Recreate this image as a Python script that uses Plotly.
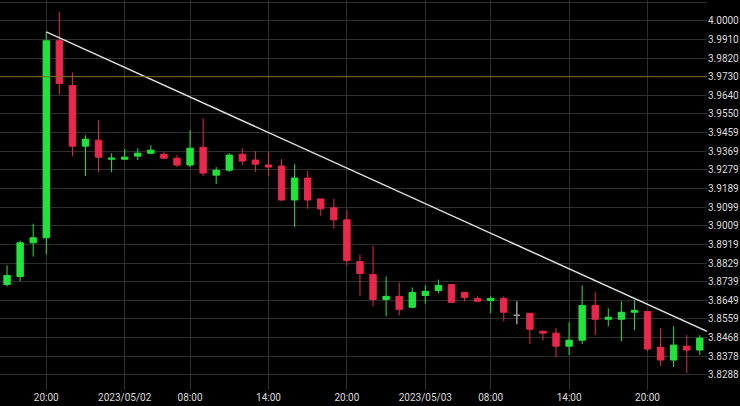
import plotly.graph_objects as go

idx = list(range(54))
opens = [3.8725,3.8764,3.8927,3.8951,3.9904,3.9687,3.9394,3.9423,3.9331,3.9331,3.9346,3.9360,3.9355,3.9336,3.9303,3.9389,3.9254,3.9278,3.9355,3.9327,3.9303,3.9298,3.9134,3.9240,3.9139,3.9096,3.9038,3.8836,3.8773,3.8653,3.8668,3.8615,3.8672,3.8696,3.8725,3.8687,3.8658,3.8648,3.8658,3.8576,3.8586,3.8499,3.8490,3.8427,3.8456,3.8624,3.8557,3.8557,3.8591,3.8595,3.8422,3.8360,3.8427,3.8408]
highs = [3.8817,3.8937,3.9019,3.9947,4.0043,3.9750,3.9447,3.9519,3.9360,3.9380,3.9384,3.9399,3.9365,3.9351,3.9471,3.9529,3.9293,3.9360,3.9384,3.9370,3.9365,3.9331,3.9307,3.9274,3.9139,3.9139,3.9086,3.8870,3.8913,3.8764,3.8735,3.8711,3.8721,3.8749,3.8725,3.8687,3.8668,3.8668,3.8668,3.8644,3.8586,3.8504,3.8514,3.8543,3.8721,3.8687,3.8610,3.8644,3.8648,3.8595,3.8514,3.8523,3.8480,3.8480]
lows = [3.8716,3.8740,3.8860,3.8870,3.9644,3.9346,3.9250,3.9269,3.9269,3.9331,3.9327,3.9355,3.9331,3.9293,3.9293,3.9250,3.9211,3.9269,3.9303,3.9269,3.9250,3.9129,3.9004,3.9091,3.9057,3.8995,3.8817,3.8668,3.8620,3.8571,3.8576,3.8610,3.8634,3.8682,3.8639,3.8644,3.8644,3.8586,3.8547,3.8533,3.8437,3.8456,3.8374,3.8384,3.8437,3.8480,3.8523,3.8451,3.8504,3.8403,3.8331,3.8326,3.8297,3.8384]
closes = [3.8769,3.8927,3.8951,3.9904,3.9697,3.9394,3.9428,3.9341,3.9336,3.9341,3.9360,3.9375,3.9336,3.9303,3.9384,3.9264,3.9278,3.9351,3.9322,3.9307,3.9293,3.9134,3.9240,3.9134,3.9091,3.9038,3.8841,3.8778,3.8653,3.8668,3.8605,3.8687,3.8692,3.8721,3.8639,3.8663,3.8644,3.8658,3.8591,3.8576,3.8509,3.8490,3.8427,3.8456,3.8624,3.8557,3.8567,3.8591,3.8600,3.8413,3.8360,3.8432,3.8408,3.8466]

x_tick_pos = [3, 9, 14, 20, 26, 32, 37, 43, 49]
x_tick_text = ["20:00", "2023/05/02", "08:00", "14:00", "20:00", "2023/05/03", "08:00", "14:00", "20:00"]
y_tick_text = ["4.0090","4.0000","3.9910","3.9820","3.9730","3.9640","3.9550","3.9459","3.9369","3.9279","3.9189","3.9099","3.9009","3.8919","3.8829","3.8739","3.8649","3.8559","3.8468","3.8378","3.8288","3.8198"]
y_tick_vals = [float(t) for t in y_tick_text]

level_price = 3.9730
trend_x = [3, 53.55]
trend_y = [3.9947, 3.8499]

doji = [i for i in idx if opens[i] == closes[i]]
normal = [i for i in idx if opens[i] != closes[i]]

fig = go.Figure()
fig.add_trace(go.Candlestick(
    x=[idx[i] for i in normal], open=[opens[i] for i in normal], high=[highs[i] for i in normal],
    low=[lows[i] for i in normal], close=[closes[i] for i in normal],
    increasing=dict(line=dict(color="#22e33c", width=1), fillcolor="#22e33c"),
    decreasing=dict(line=dict(color="#e9284c", width=1), fillcolor="#e9284c"),
    whiskerwidth=0, showlegend=False, hoverinfo="skip"))
fig.add_trace(go.Candlestick(
    x=[idx[i] for i in doji], open=[opens[i] for i in doji], high=[highs[i] for i in doji],
    low=[lows[i] for i in doji], close=[closes[i] for i in doji],
    increasing=dict(line=dict(color="#999999", width=1.5)),
    decreasing=dict(line=dict(color="#999999", width=1.5)),
    showlegend=False, hoverinfo="skip"))
fig.add_trace(go.Scatter(x=trend_x, y=trend_y, mode="lines",
                         line=dict(color="#dddddd", width=1.5), showlegend=False, hoverinfo="skip"))
fig.add_hline(y=level_price, line=dict(color="#7d6a18", width=1))

fig.update_layout(
    width=740, height=406, margin=dict(l=0, r=33, t=0, b=16),
    paper_bgcolor="black", plot_bgcolor="black",
    font=dict(family="Roboto", color="#dcdcdc", size=10),
    xaxis=dict(range=[-0.54, 53.55], rangeslider=dict(visible=False),
               tickvals=x_tick_pos, ticktext=x_tick_text, showgrid=True,
               gridcolor="#2e2e2e", gridwidth=1, zeroline=False, ticks="", tickfont=dict(size=10)),
    yaxis=dict(range=[3.8215, 4.0101], side="right", tickvals=y_tick_vals, ticktext=y_tick_text,
               showgrid=True, gridcolor="#2e2e2e", gridwidth=1, zeroline=False, ticks="",
               tickfont=dict(size=10)),
)
fig.write_html("out.html", config={"displayModeBar": False},
               post_script="document.body.style.margin='0';document.body.style.background='black';")
